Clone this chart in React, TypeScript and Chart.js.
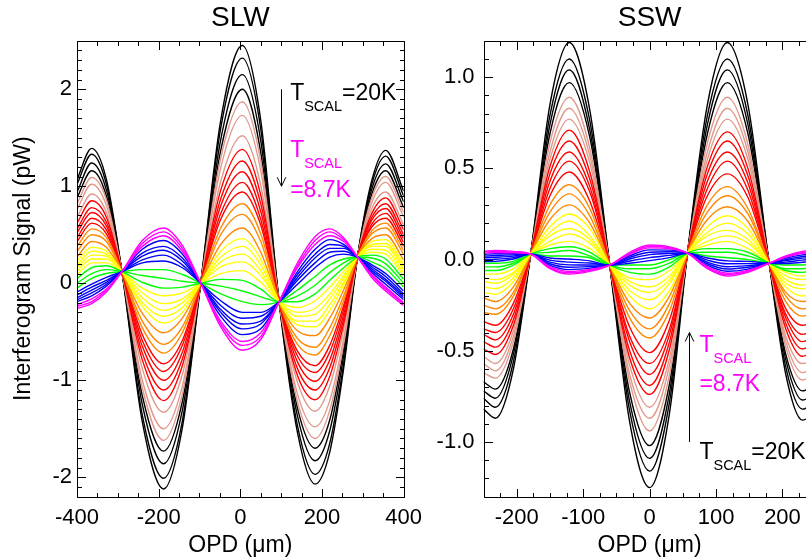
import React, { useEffect, useRef } from 'react';
import { Chart, registerables } from 'chart.js';

Chart.register(...registerables);

const FONT = "'Liberation Sans', Arial, Helvetica, sans-serif";

// ---------------- SLW panel data ----------------
const slwOpd = [-400, -364, -328, -290, -240, -188, -142, -97, -48, 5, 50, 95, 140, 183, 219, 253, 287, 322, 356, 400];

const slwBlack = [
  [1.07, 1.39, 1.07, 0.12, -1.43, -2.12, -1.49, 0, 1.68, 2.45, 1.68, -0.19, -1.54, -2.07, -1.74, -0.88, 0.27, 1.06, 1.37, 0.95],
  [1.02, 1.33, 1.02, 0.12, -1.36, -2.01, -1.42, 0, 1.60, 2.32, 1.59, -0.19, -1.47, -1.97, -1.65, -0.83, 0.27, 1.02, 1.31, 0.90],
  [0.94, 1.24, 0.96, 0.12, -1.25, -1.86, -1.31, 0, 1.48, 2.15, 1.47, -0.19, -1.37, -1.83, -1.52, -0.75, 0.27, 0.97, 1.23, 0.84],
  [0.88, 1.16, 0.90, 0.12, -1.16, -1.73, -1.22, 0, 1.37, 2.00, 1.35, -0.19, -1.29, -1.70, -1.41, -0.68, 0.27, 0.92, 1.16, 0.78],
];
const slwRosy = [
  [0.82, 1.09, 0.86, 0.12, -1.08, -1.62, -1.14, 0, 1.29, 1.87, 1.26, -0.19, -1.22, -1.60, -1.31, -0.63, 0.27, 0.88, 1.10, 0.73],
  [0.76, 1.02, 0.80, 0.12, -1.00, -1.50, -1.06, 0, 1.19, 1.73, 1.16, -0.19, -1.14, -1.48, -1.21, -0.57, 0.27, 0.83, 1.04, 0.68],
  [0.68, 0.92, 0.73, 0.12, -0.88, -1.33, -0.94, 0, 1.05, 1.52, 1.01, -0.19, -1.02, -1.32, -1.06, -0.48, 0.27, 0.77, 0.94, 0.60],
];
const slwRed = [
  [0.62, 0.85, 0.68, 0.12, -0.79, -1.21, -0.85, 0, 0.96, 1.38, 0.91, -0.19, -0.95, -1.20, -0.96, -0.42, 0.27, 0.72, 0.88, 0.55],
  [0.56, 0.78, 0.63, 0.12, -0.72, -1.10, -0.78, 0, 0.87, 1.26, 0.82, -0.19, -0.88, -1.10, -0.87, -0.37, 0.27, 0.68, 0.82, 0.50],
  [0.52, 0.73, 0.59, 0.12, -0.65, -1.00, -0.71, 0, 0.80, 1.15, 0.74, -0.19, -0.81, -1.01, -0.79, -0.32, 0.27, 0.65, 0.77, 0.46],
  [0.47, 0.67, 0.55, 0.12, -0.59, -0.91, -0.64, 0, 0.72, 1.04, 0.66, -0.19, -0.75, -0.92, -0.71, -0.27, 0.27, 0.61, 0.72, 0.42],
  [0.43, 0.62, 0.51, 0.12, -0.53, -0.83, -0.59, 0, 0.66, 0.94, 0.60, -0.19, -0.70, -0.85, -0.64, -0.23, 0.27, 0.58, 0.67, 0.38],
];
const slwOrange = [
  [0.38, 0.56, 0.47, 0.12, -0.46, -0.72, -0.51, 0, 0.57, 0.82, 0.51, -0.19, -0.63, -0.74, -0.54, -0.18, 0.27, 0.54, 0.62, 0.34],
  [0.33, 0.50, 0.43, 0.12, -0.39, -0.63, -0.45, 0, 0.50, 0.71, 0.43, -0.19, -0.57, -0.66, -0.46, -0.13, 0.27, 0.51, 0.57, 0.30],
  [0.27, 0.43, 0.37, 0.12, -0.31, -0.51, -0.36, 0, 0.40, 0.57, 0.32, -0.19, -0.49, -0.54, -0.36, -0.07, 0.27, 0.46, 0.50, 0.24],
];
const slwYellow = [
  [0.23, 0.37, 0.33, 0.12, -0.24, -0.41, -0.30, 0, 0.33, 0.46, 0.25, -0.19, -0.43, -0.45, -0.28, -0.02, 0.27, 0.43, 0.45, 0.20],
  [0.19, 0.33, 0.30, 0.12, -0.20, -0.34, -0.25, 0, 0.27, 0.38, 0.19, -0.19, -0.39, -0.39, -0.22, 0.01, 0.27, 0.40, 0.41, 0.17],
  [0.16, 0.29, 0.28, 0.12, -0.15, -0.28, -0.20, 0, 0.22, 0.30, 0.13, -0.19, -0.34, -0.32, -0.16, 0.05, 0.27, 0.38, 0.38, 0.14],
  [0.13, 0.25, 0.25, 0.12, -0.10, -0.21, -0.16, 0, 0.17, 0.22, 0.08, -0.19, -0.30, -0.26, -0.11, 0.08, 0.27, 0.35, 0.34, 0.11],
  [0.09, 0.21, 0.21, 0.12, -0.05, -0.13, -0.10, 0, 0.10, 0.13, 0.01, -0.19, -0.25, -0.18, -0.04, 0.12, 0.27, 0.32, 0.30, 0.08],
];
const slwGreen = [
  [0.05, 0.16, 0.18, 0.12, 0.01, -0.05, -0.04, 0, 0.04, 0.03, -0.06, -0.19, -0.19, -0.11, 0.03, 0.16, 0.27, 0.29, 0.25, 0.04],
  [0.00, 0.10, 0.14, 0.12, 0.08, 0.05, 0.02, 0, -0.03, -0.08, -0.14, -0.19, -0.13, -0.02, 0.11, 0.21, 0.27, 0.26, 0.20, 0.00],
  [-0.05, 0.05, 0.10, 0.12, 0.14, 0.14, 0.09, 0, -0.11, -0.19, -0.22, -0.19, -0.07, 0.07, 0.19, 0.25, 0.27, 0.22, 0.15, -0.04],
];
const slwBlue = [
  [-0.09, -0.01, 0.06, 0.12, 0.21, 0.23, 0.16, 0, -0.18, -0.30, -0.30, -0.19, -0.01, 0.16, 0.27, 0.30, 0.27, 0.19, 0.10, -0.08],
  [-0.12, -0.04, 0.03, 0.12, 0.24, 0.29, 0.19, 0, -0.23, -0.36, -0.34, -0.19, 0.03, 0.21, 0.32, 0.33, 0.27, 0.17, 0.07, -0.11],
  [-0.15, -0.07, 0.01, 0.12, 0.28, 0.34, 0.23, 0, -0.27, -0.42, -0.39, -0.19, 0.06, 0.26, 0.36, 0.36, 0.27, 0.15, 0.04, -0.13],
  [-0.17, -0.10, -0.01, 0.12, 0.31, 0.38, 0.26, 0, -0.30, -0.47, -0.42, -0.19, 0.09, 0.30, 0.40, 0.38, 0.27, 0.13, 0.02, -0.15],
  [-0.19, -0.13, -0.03, 0.12, 0.35, 0.44, 0.30, 0, -0.34, -0.53, -0.47, -0.19, 0.12, 0.35, 0.45, 0.40, 0.27, 0.11, -0.01, -0.17],
];
const slwMagenta = [
  [-0.22, -0.16, -0.06, 0.12, 0.38, 0.49, 0.33, 0, -0.39, -0.60, -0.51, -0.19, 0.16, 0.40, 0.49, 0.43, 0.27, 0.09, -0.04, -0.20],
  [-0.24, -0.19, -0.07, 0.12, 0.41, 0.53, 0.36, 0, -0.42, -0.64, -0.55, -0.19, 0.18, 0.44, 0.53, 0.45, 0.27, 0.08, -0.06, -0.21],
  [-0.26, -0.21, -0.09, 0.12, 0.44, 0.57, 0.39, 0, -0.45, -0.69, -0.58, -0.19, 0.21, 0.48, 0.56, 0.47, 0.27, 0.06, -0.08, -0.23],
];

// ---------------- SSW panel data ----------------
const sswOpd = [-250, -232, -205, -179, -150, -121, -90, -60, -30, 0, 30, 57, 87, 117, 148, 180, 205, 230, 250];

const sswBlack = [
  [-0.82, -0.87, -0.60, 0.03, 0.85, 1.19, 0.82, -0.03, -0.89, -1.25, -0.84, 0.035, 0.85, 1.19, 0.85, -0.02, -0.63, -0.88, -0.84],
  [-0.76, -0.81, -0.56, 0.03, 0.79, 1.10, 0.76, -0.03, -0.83, -1.16, -0.78, 0.035, 0.79, 1.10, 0.79, -0.02, -0.59, -0.82, -0.78],
  [-0.72, -0.76, -0.52, 0.03, 0.74, 1.04, 0.71, -0.03, -0.78, -1.09, -0.73, 0.035, 0.74, 1.04, 0.74, -0.02, -0.55, -0.77, -0.73],
  [-0.67, -0.71, -0.49, 0.03, 0.69, 0.97, 0.67, -0.03, -0.73, -1.02, -0.68, 0.035, 0.69, 0.97, 0.69, -0.02, -0.52, -0.72, -0.68],
];
const sswRosy = [
  [-0.62, -0.65, -0.45, 0.03, 0.64, 0.89, 0.61, -0.03, -0.67, -0.94, -0.63, 0.035, 0.64, 0.89, 0.63, -0.02, -0.48, -0.66, -0.63],
  [-0.57, -0.61, -0.42, 0.03, 0.59, 0.83, 0.57, -0.03, -0.63, -0.87, -0.58, 0.035, 0.59, 0.83, 0.59, -0.02, -0.45, -0.62, -0.59],
  [-0.53, -0.57, -0.39, 0.03, 0.55, 0.77, 0.53, -0.03, -0.58, -0.81, -0.54, 0.035, 0.55, 0.77, 0.55, -0.02, -0.42, -0.57, -0.55],
];
const sswRed = [
  [-0.49, -0.52, -0.36, 0.03, 0.51, 0.71, 0.48, -0.03, -0.54, -0.74, -0.49, 0.035, 0.51, 0.70, 0.50, -0.02, -0.38, -0.53, -0.50],
  [-0.45, -0.48, -0.33, 0.03, 0.47, 0.65, 0.44, -0.03, -0.50, -0.69, -0.45, 0.035, 0.47, 0.65, 0.46, -0.02, -0.35, -0.49, -0.46],
  [-0.41, -0.44, -0.30, 0.03, 0.43, 0.59, 0.40, -0.03, -0.45, -0.63, -0.41, 0.035, 0.43, 0.59, 0.42, -0.02, -0.32, -0.45, -0.42],
  [-0.38, -0.40, -0.27, 0.03, 0.39, 0.54, 0.37, -0.03, -0.42, -0.57, -0.38, 0.035, 0.39, 0.54, 0.38, -0.02, -0.30, -0.41, -0.39],
  [-0.34, -0.36, -0.24, 0.03, 0.35, 0.48, 0.32, -0.03, -0.37, -0.51, -0.33, 0.035, 0.35, 0.47, 0.34, -0.02, -0.27, -0.36, -0.34],
];
const sswOrange = [
  [-0.29, -0.30, -0.20, 0.03, 0.30, 0.41, 0.28, -0.03, -0.32, -0.43, -0.28, 0.035, 0.30, 0.40, 0.28, -0.02, -0.23, -0.31, -0.29],
  [-0.25, -0.27, -0.18, 0.03, 0.26, 0.36, 0.24, -0.03, -0.28, -0.38, -0.24, 0.035, 0.26, 0.35, 0.25, -0.02, -0.20, -0.27, -0.26],
  [-0.21, -0.23, -0.15, 0.03, 0.22, 0.30, 0.20, -0.03, -0.24, -0.32, -0.20, 0.035, 0.22, 0.29, 0.21, -0.02, -0.18, -0.23, -0.22],
];
const sswYellow = [
  [-0.18, -0.19, -0.12, 0.03, 0.18, 0.25, 0.17, -0.03, -0.20, -0.27, -0.17, 0.035, 0.18, 0.24, 0.17, -0.02, -0.15, -0.20, -0.18],
  [-0.15, -0.16, -0.10, 0.03, 0.15, 0.21, 0.13, -0.03, -0.17, -0.22, -0.13, 0.035, 0.15, 0.20, 0.14, -0.02, -0.13, -0.16, -0.15],
  [-0.12, -0.13, -0.08, 0.03, 0.13, 0.17, 0.11, -0.03, -0.14, -0.18, -0.11, 0.035, 0.13, 0.16, 0.11, -0.02, -0.11, -0.14, -0.12],
  [-0.10, -0.11, -0.07, 0.03, 0.10, 0.14, 0.09, -0.03, -0.12, -0.15, -0.09, 0.035, 0.10, 0.13, 0.09, -0.02, -0.09, -0.11, -0.10],
  [-0.08, -0.08, -0.05, 0.03, 0.08, 0.10, 0.06, -0.03, -0.10, -0.11, -0.06, 0.035, 0.08, 0.10, 0.06, -0.02, -0.07, -0.09, -0.08],
];
const sswGreen = [
  [-0.06, -0.06, -0.03, 0.03, 0.06, 0.07, 0.04, -0.03, -0.07, -0.08, -0.04, 0.035, 0.06, 0.06, 0.04, -0.02, -0.06, -0.07, -0.06],
  [-0.04, -0.04, -0.02, 0.03, 0.04, 0.05, 0.02, -0.03, -0.05, -0.05, -0.02, 0.035, 0.04, 0.04, 0.02, -0.02, -0.05, -0.05, -0.04],
  [-0.02, -0.02, -0.01, 0.03, 0.02, 0.02, 0.01, -0.03, -0.03, -0.03, 0.00, 0.035, 0.02, 0.01, 0.00, -0.02, -0.03, -0.03, -0.02],
];
const sswBlue = [
  [-0.011, -0.01, 0.003, 0.03, 0.009, 0.003, -0.007, -0.03, -0.02, -0.006, 0.011, 0.035, 0.009, -0.007, -0.01, -0.02, -0.022, -0.015, -0.008],
  [0.0, 0.002, 0.011, 0.03, -0.003, -0.014, -0.019, -0.03, -0.008, 0.011, 0.023, 0.035, -0.003, -0.023, -0.022, -0.02, -0.014, -0.003, 0.004],
  [0.01, 0.013, 0.019, 0.03, -0.014, -0.029, -0.03, -0.03, 0.003, 0.027, 0.034, 0.035, -0.014, -0.039, -0.033, -0.02, -0.006, 0.008, 0.014],
  [0.019, 0.022, 0.026, 0.03, -0.023, -0.042, -0.038, -0.03, 0.012, 0.04, 0.043, 0.035, -0.023, -0.052, -0.042, -0.02, 0.0, 0.017, 0.023],
  [0.028, 0.032, 0.032, 0.03, -0.032, -0.055, -0.047, -0.03, 0.021, 0.053, 0.052, 0.035, -0.032, -0.064, -0.052, -0.02, 0.007, 0.026, 0.032],
];
const sswMagenta = [
  [0.035, 0.039, 0.037, 0.03, -0.039, -0.065, -0.054, -0.03, 0.029, 0.064, 0.059, 0.035, -0.039, -0.075, -0.059, -0.02, 0.012, 0.034, 0.039],
  [0.040, 0.045, 0.041, 0.03, -0.045, -0.072, -0.06, -0.03, 0.034, 0.072, 0.065, 0.035, -0.045, -0.082, -0.064, -0.02, 0.016, 0.039, 0.045],
  [0.045, 0.05, 0.045, 0.03, -0.05, -0.08, -0.065, -0.03, 0.04, 0.08, 0.07, 0.035, -0.05, -0.09, -0.07, -0.02, 0.02, 0.045, 0.05],
];

// ---------------- ticks / labels ----------------
const slwXTicks = [-400, -200, 0, 200, 400];
const slwYTicks = [-2, -1, 0, 1, 2];
const sswXTicks = [-200, -100, 0, 100, 200];
const sswYTicks = [-1, -0.5, 0, 0.5, 1];

const COLORS = {
  black: '#000000',
  rosy: '#e0998c',
  red: '#ff0000',
  orange: '#ff8800',
  yellow: '#ffff00',
  green: '#00ff00',
  blue: '#0000ff',
  magenta: '#ff00ff',
};

function buildDatasets(opd: number[], groups: [number[][], string][]) {
  const out: any[] = [];
  let i = 0;
  groups.forEach(([rows, color]) => {
    rows.forEach((row) => {
      out.push({
        data: row.map((y, j) => ({ x: opd[j], y })),
        borderColor: color,
        backgroundColor: color,
        borderWidth: 1.4,
        pointRadius: 0,
        fill: false,
        cubicInterpolationMode: 'monotone',
        order: 100 - i,
      });
      i++;
    });
  });
  return out;
}

const frameTicks = {
  id: 'frameTicks',
  afterDatasetsDraw(chart: any, _args: any, opts: any) {
    const { ctx, chartArea: a, scales } = chart;
    const xs = scales.x;
    const ys = scales.y;
    const L = Math.round(a.left) + 0.5;
    const R = Math.round(a.right) + 0.5;
    const T = Math.round(a.top) + 0.5;
    const B = Math.round(a.bottom) + 0.5;
    ctx.save();
    ctx.strokeStyle = '#000';
    ctx.lineWidth = 1;
    ctx.beginPath();
    ctx.rect(L, T, R - L, B - T);
    const eps = 1e-6;
    const isMajor = (v: number, arr: number[]) => arr.some((m) => Math.abs(m - v) < eps);
    // x ticks
    const nx0 = Math.ceil(xs.min / opts.xMinor - eps);
    const nx1 = Math.floor(xs.max / opts.xMinor + eps);
    for (let n = nx0; n <= nx1; n++) {
      const v = n * opts.xMinor;
      const len = isMajor(v, opts.xMajor) ? opts.majorLen : opts.minorLen;
      const p = Math.round(xs.getPixelForValue(v)) + 0.5;
      ctx.moveTo(p, B);
      ctx.lineTo(p, B - len);
      ctx.moveTo(p, T);
      ctx.lineTo(p, T + len);
    }
    const ny0 = Math.ceil(ys.min / opts.yMinor - eps);
    const ny1 = Math.floor(ys.max / opts.yMinor + eps);
    for (let n = ny0; n <= ny1; n++) {
      const v = n * opts.yMinor;
      const len = isMajor(v, opts.yMajor) ? opts.majorLen : opts.minorLen;
      const p = Math.round(ys.getPixelForValue(v)) + 0.5;
      ctx.moveTo(L, p);
      ctx.lineTo(L + len, p);
      ctx.moveTo(R, p);
      ctx.lineTo(R - len, p);
    }
    ctx.stroke();
    ctx.restore();
  },
};

const tscalNotes = {
  id: 'tscalNotes',
  afterDatasetsDraw(chart: any, _args: any, o: any) {
    const { ctx, scales } = chart;
    const xs = scales.x;
    const ys = scales.y;
    ctx.save();
    const ax = Math.round(xs.getPixelForValue(o.arrow.x)) + 0.5;
    const y0 = ys.getPixelForValue(o.arrow.from);
    const y1 = ys.getPixelForValue(o.arrow.to);
    const dir = y1 > y0 ? 1 : -1;
    ctx.strokeStyle = '#000';
    ctx.lineWidth = 1;
    ctx.beginPath();
    ctx.moveTo(ax, y0);
    ctx.lineTo(ax, y1);
    ctx.moveTo(ax - 4.3, y1 - dir * 9);
    ctx.lineTo(ax, y1);
    ctx.lineTo(ax + 4.3, y1 - dir * 9);
    ctx.stroke();
    ctx.textAlign = 'left';
    ctx.textBaseline = 'alphabetic';
    for (const lab of o.labels) {
      let px = xs.getPixelForValue(lab.x);
      const py = ys.getPixelForValue(lab.y);
      ctx.fillStyle = lab.color;
      for (const part of lab.parts) {
        ctx.font = `${part.size}px ${FONT}`;
        ctx.fillText(part.text, px, py + part.dy);
        px += ctx.measureText(part.text).width;
      }
    }
    ctx.restore();
  },
};

const tPart = (text: string) => ({ text, size: 23, dy: 0 });
const subPart = (text: string) => ({ text, size: 14.5, dy: 11 });

interface PanelSpec {
  title: string;
  opd: number[];
  groups: [number[][], string][];
  xMin: number;
  xMax: number;
  yMin: number;
  yMax: number;
  xTicks: number[];
  yTicks: number[];
  xMinor: number;
  yMinor: number;
  yFmt: (v: number) => string;
  yAxisWidth: number;
  padRight: number;
  yLabelPad: number;
  yTitle: string | null;
  notes: any;
}

function makeConfig(p: PanelSpec): any {
  return {
    type: 'line',
    data: { datasets: buildDatasets(p.opd, p.groups) },
    options: {
      responsive: false,
      animation: false,
      events: [],
      layout: { padding: { left: 0, right: p.padRight, top: 0, bottom: 0 } },
      plugins: {
        legend: { display: false },
        tooltip: { enabled: false },
        title: {
          display: true,
          text: p.title,
          fullSize: false,
          color: '#000',
          font: { family: FONT, size: 28, weight: 'normal' },
          padding: { top: 1.5, bottom: 5.6 },
        },
        frameTicks: {
          xMinor: p.xMinor,
          yMinor: p.yMinor,
          xMajor: p.xTicks,
          yMajor: p.yTicks,
          majorLen: 8.5,
          minorLen: 4.5,
        },
        tscalNotes: p.notes,
      },
      scales: {
        x: {
          type: 'linear',
          min: p.xMin,
          max: p.xMax,
          afterBuildTicks: (s: any) => {
            s.ticks = p.xTicks.map((v) => ({ value: v }));
          },
          afterFit: (s: any) => {
            s.height = 63.3;
          },
          grid: { display: false, drawTicks: false },
          border: { display: false },
          ticks: {
            autoSkip: false,
            maxRotation: 0,
            minRotation: 0,
            padding: 8,
            color: '#000',
            font: { family: FONT, size: 22 },
            callback: (v: any) => String(v),
          },
          title: {
            display: true,
            text: 'OPD (μm)',
            color: '#000',
            font: { family: FONT, size: 23 },
            padding: { top: 0, bottom: 0.7 },
          },
        },
        y: {
          type: 'linear',
          min: p.yMin,
          max: p.yMax,
          afterBuildTicks: (s: any) => {
            s.ticks = p.yTicks.map((v) => ({ value: v }));
          },
          afterFit: (s: any) => {
            s.width = p.yAxisWidth;
          },
          grid: { display: false, drawTicks: false },
          border: { display: false },
          ticks: {
            autoSkip: false,
            padding: p.yLabelPad,
            color: '#000',
            font: { family: FONT, size: 22 },
            callback: (v: any) => p.yFmt(Number(v)),
          },
          title: p.yTitle
            ? {
                display: true,
                text: p.yTitle,
                color: '#000',
                font: { family: FONT, size: 23 },
                padding: { top: 9.7, bottom: 0 },
              }
            : { display: false },
        },
      },
    },
    plugins: [frameTicks, tscalNotes],
  };
}

const slwSpec: PanelSpec = {
  title: 'SLW',
  opd: slwOpd,
  groups: [
    [slwBlack, COLORS.black],
    [slwRosy, COLORS.rosy],
    [slwRed, COLORS.red],
    [slwOrange, COLORS.orange],
    [slwYellow, COLORS.yellow],
    [slwGreen, COLORS.green],
    [slwBlue, COLORS.blue],
    [slwMagenta, COLORS.magenta],
  ],
  xMin: -400,
  xMax: 400,
  yMin: -2.2,
  yMax: 2.5,
  xTicks: slwXTicks,
  yTicks: slwYTicks,
  xMinor: 50,
  yMinor: 0.1,
  yFmt: (v) => String(v),
  yAxisWidth: 77,
  padRight: 22,
  yLabelPad: 5,
  yTitle: 'Interferogram Signal (pW)',
  notes: {
    arrow: { x: 100, from: 2.0, to: 1.0 },
    labels: [
      { x: 122, y: 1.89, color: '#000000', parts: [tPart('T'), subPart('SCAL'), tPart('=20K')] },
      { x: 122, y: 1.3, color: '#ff00ff', parts: [tPart('T'), subPart('SCAL')] },
      { x: 122, y: 0.89, color: '#ff00ff', parts: [tPart('=8.7K')] },
    ],
  },
};

const sswSpec: PanelSpec = {
  title: 'SSW',
  opd: sswOpd,
  groups: [
    [sswBlack, COLORS.black],
    [sswRosy, COLORS.rosy],
    [sswRed, COLORS.red],
    [sswOrange, COLORS.orange],
    [sswYellow, COLORS.yellow],
    [sswGreen, COLORS.green],
    [sswBlue, COLORS.blue],
    [sswMagenta, COLORS.magenta],
  ],
  xMin: -250,
  xMax: 250,
  yMin: -1.3,
  yMax: 1.2,
  xTicks: sswXTicks,
  yTicks: sswYTicks,
  xMinor: 25,
  yMinor: 0.1,
  yFmt: (v) => v.toFixed(1),
  yAxisWidth: 53.5,
  padRight: 30.3,
  yLabelPad: 9,
  yTitle: null,
  notes: {
    arrow: { x: 60, from: -1.0, to: -0.4 },
    labels: [
      { x: 75, y: -0.504, color: '#ff00ff', parts: [tPart('T'), subPart('SCAL')] },
      { x: 75, y: -0.722, color: '#ff00ff', parts: [tPart('=8.7K')] },
      { x: 75, y: -1.096, color: '#000000', parts: [tPart('T'), subPart('SCAL'), tPart('=20K')] },
    ],
  },
};

function Panel({ spec, left, width }: { spec: PanelSpec; left: number; width: number }) {
  const ref = useRef<HTMLCanvasElement | null>(null);
  useEffect(() => {
    if (!ref.current) return;
    const chart = new Chart(ref.current, makeConfig(spec));
    return () => chart.destroy();
  }, [spec]);
  return (
    <canvas
      ref={ref}
      width={width}
      height={560}
      style={{ position: 'absolute', left, top: 0, width, height: 560 }}
    />
  );
}

export default function App() {
  return (
    <div
      style={{
        position: 'fixed',
        left: 0,
        top: 0,
        width: 806,
        height: 560,
        overflow: 'hidden',
        background: '#ffffff',
      }}
    >
      <Panel spec={slwSpec} left={0} width={430} />
      <Panel spec={sswSpec} left={430} width={416} />
    </div>
  );
}
